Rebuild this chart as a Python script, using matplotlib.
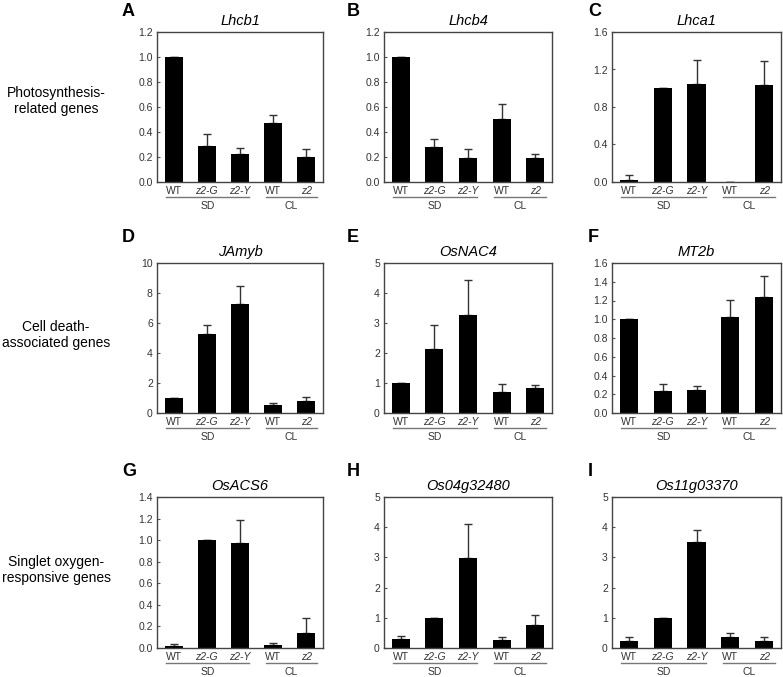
import matplotlib
matplotlib.use("Agg")
import matplotlib.pyplot as plt
import matplotlib.transforms as mtransforms

plt.rcParams['font.family'] = ['Liberation Sans', 'DejaVu Sans']

categories = ["WT", "z2-G", "z2-Y", "WT", "z2"]
italic_cats = [False, True, True, False, True]
groups = ["SD", "CL"]

titles = ["Lhcb1", "Lhcb4", "Lhca1", "JAmyb", "OsNAC4", "MT2b",
          "OsACS6", "Os04g32480", "Os11g03370"]
letters = ["A", "B", "C", "D", "E", "F", "G", "H", "I"]

lhcb1 = [1.0, 0.29, 0.22, 0.47, 0.20]
lhcb1_err = [0, 0.09, 0.05, 0.065, 0.065]
lhcb4 = [1.0, 0.28, 0.19, 0.50, 0.19]
lhcb4_err = [0, 0.06, 0.075, 0.12, 0.035]
lhca1 = [0.02, 1.0, 1.05, 0.0, 1.03]
lhca1_err = [0.05, 0, 0.25, 0, 0.26]
jamyb = [1.0, 5.3, 7.3, 0.55, 0.8]
jamyb_err = [0, 0.6, 1.15, 0.1, 0.3]
osnac4 = [1.0, 2.12, 3.28, 0.7, 0.83]
osnac4_err = [0, 0.8, 1.17, 0.27, 0.1]
mt2b = [1.0, 0.23, 0.25, 1.02, 1.24]
mt2b_err = [0, 0.08, 0.04, 0.19, 0.22]
osacs6 = [0.02, 1.0, 0.97, 0.03, 0.14]
osacs6_err = [0.02, 0, 0.22, 0.02, 0.14]
os04 = [0.3, 1.0, 2.97, 0.25, 0.75]
os04_err = [0.1, 0, 1.15, 0.1, 0.35]
os11 = [0.22, 1.0, 3.52, 0.35, 0.22]
os11_err = [0.13, 0, 0.38, 0.15, 0.13]

values = [lhcb1, lhcb4, lhca1, jamyb, osnac4, mt2b, osacs6, os04, os11]
errors = [lhcb1_err, lhcb4_err, lhca1_err, jamyb_err, osnac4_err, mt2b_err,
          osacs6_err, os04_err, os11_err]
ylims = [1.2, 1.2, 1.6, 10, 5, 1.6, 1.4, 5, 5]
ysteps = [0.2, 0.2, 0.4, 2, 1, 0.2, 0.2, 1, 1]
ydec = [1, 1, 1, 0, 0, 1, 1, 0, 0]

row_labels = ["Photosynthesis-\nrelated genes", "Cell death-\nassociated genes",
              "Singlet oxygen-\nresponsive genes"]

W, H = 783, 677
fig = plt.figure(figsize=(W / 100, H / 100), dpi=100)

# axes pixel boxes: (left, top, right, bottom)
col_x = [(157, 323), (384, 552), (612, 781)]
row_y = [(32, 182), (263, 413), (497, 648)]

grey = "#555555"
for i in range(9):
    r, c = divmod(i, 3)
    x0, x1 = col_x[c]
    y0, y1 = row_y[r]
    ax = fig.add_axes([x0 / W, 1 - y1 / H, (x1 - x0) / W, (y1 - y0) / H])
    xs = list(range(len(categories)))
    ax.bar(xs, values[i], width=0.54, color="black", zorder=2)
    ax.errorbar(xs, values[i], yerr=[[0] * 5, errors[i]], fmt="none",
                ecolor="#333333", elinewidth=1.0, capsize=3, capthick=1.0, zorder=1)
    ax.set_xlim(-0.5, 4.5)
    ax.set_ylim(0, ylims[i])
    n = int(round(ylims[i] / ysteps[i]))
    ticks = [k * ysteps[i] for k in range(n + 1)]
    ax.set_yticks(ticks)
    ax.set_yticklabels([f"{t:.{ydec[i]}f}" for t in ticks])
    ax.set_xticks(xs)
    ax.set_xticklabels(categories)
    for lab, it in zip(ax.get_xticklabels(), italic_cats):
        if it:
            lab.set_style("italic")
    ax.tick_params(axis="x", length=0, pad=3, labelsize=7.5, labelcolor="#333333")
    ax.tick_params(axis="y", length=2, direction="in", pad=3, labelsize=7.5,
                   labelcolor="#333333", color=grey)
    for s in ax.spines.values():
        s.set_color("#444444")
        s.set_linewidth(1.0)
    ax.set_title(titles[i], style="italic", fontsize=10.5, pad=5)
    trans = mtransforms.blended_transform_factory(ax.transData, ax.transAxes)
    for (a, b, name) in [(-0.23, 2.28, groups[0]), (2.78, 4.32, groups[1])]:
        ax.plot([a, b], [-0.1, -0.1], transform=trans, color="#777777",
                lw=1.0, clip_on=False)
        ax.text((a + b) / 2, -0.125, name, transform=trans, ha="center",
                va="top", fontsize=7.5, color="#333333")
    # panel letter
    lx = [122, 347, 588][c]
    ly = [12, 238, 471][r]
    fig.text(lx / W, 1 - ly / H, letters[i], fontsize=13, fontweight="bold",
             ha="left", va="center")

for r, lab in enumerate(row_labels):
    cy = [101, 335, 570][r]
    fig.text(56 / W, 1 - cy / H, lab, fontsize=10, ha="center", va="center",
             linespacing=1.25)

fig.savefig("out.png", dpi=100)
